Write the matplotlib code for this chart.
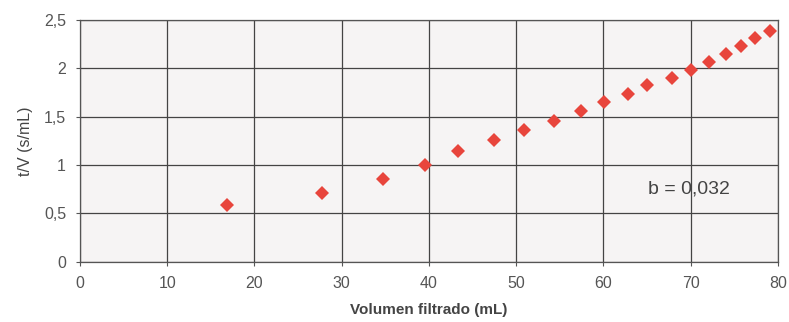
import matplotlib
matplotlib.use("Agg")
import matplotlib.pyplot as plt
from matplotlib.ticker import FuncFormatter

plt.rcParams['font.family'] = ['Liberation Sans', 'DejaVu Sans']

# datos
volumen = [16.8, 27.8, 34.7, 39.5, 43.3, 47.5, 50.95, 54.4, 57.5, 60.1,
           62.8, 65.0, 67.85, 70.1, 72.1, 74.1, 75.8, 77.4, 79.1]
t_v = [0.586, 0.707, 0.858, 1.0, 1.145, 1.258, 1.365, 1.458, 1.555, 1.652,
       1.734, 1.83, 1.9, 1.98, 2.07, 2.15, 2.23, 2.31, 2.39]
x_ticks = [0, 10, 20, 30, 40, 50, 60, 70, 80]
y_ticks = [0, 0.5, 1, 1.5, 2, 2.5]
etiqueta_b = "b = 0,032"

fig = plt.figure(figsize=(7.89, 3.22), dpi=100)
ax = fig.add_axes([0.1014, 0.187, 0.8843, 0.751])
ax.set_facecolor('#f6f4f4')

ax.plot(volumen, t_v, linestyle='none', marker='D', markersize=7.5,
        color='#e8453c', markeredgewidth=0, zorder=3)

ax.set_xlim(0, 80)
ax.set_ylim(0, 2.5)
ax.set_xticks(x_ticks)
ax.set_yticks(y_ticks)
ax.yaxis.set_major_formatter(FuncFormatter(lambda v, p: f"{v:g}".replace('.', ',')))
ax.grid(True, color='#444444', linewidth=0.9)
ax.set_axisbelow(True)
for s in ax.spines.values():
    s.set_color('#555555')
    s.set_linewidth(0.9)

ax.tick_params(axis='both', labelsize=11.5, colors='#555555', labelcolor='#555555',
               length=3, pad=7)

ax.set_xlabel("Volumen filtrado (mL)", fontsize=11, fontweight='bold', color='#444444', labelpad=9)
ax.set_ylabel("t/V (s/mL)", fontsize=11.5, color='#444444', labelpad=8)

ax.text(65.1, 0.75, etiqueta_b, fontsize=14, color='#444444', va='center')

fig.savefig("out.png", dpi=100)
